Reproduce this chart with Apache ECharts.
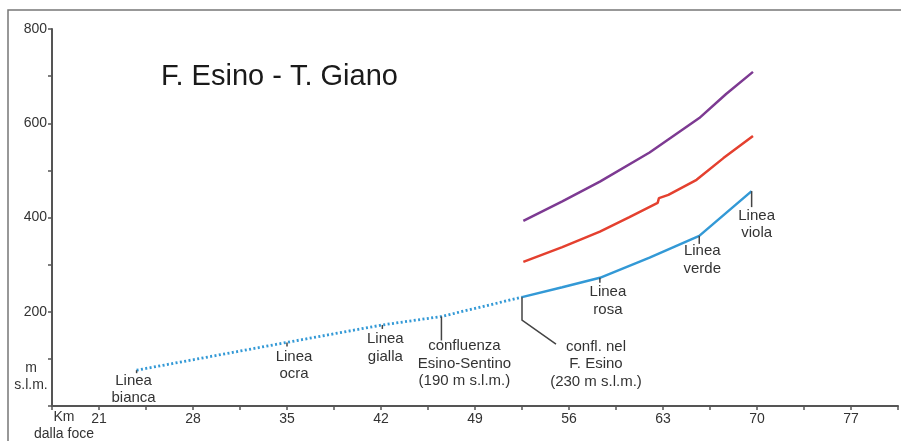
<!DOCTYPE html>
<html>
<head>
<meta charset="utf-8">
<script src="https://cdn.jsdelivr.net/npm/echarts@6/dist/echarts.min.js"></script>
<style>
html,body{margin:0;padding:0;background:#fff;}
#chart{width:901px;height:441px;}
</style>
</head>
<body>
<div id="chart"></div>
<script>
// ---- data ----
const chartTitle = 'F. Esino - T. Giano';
const xTickLabels = [21, 28, 35, 42, 49, 56, 63, 70, 77];
const yTickLabels = [200, 400, 600, 800];

// Linea blu tratteggiata (valle)
const blueDottedKm = [23.8, 35.0, 42.1, 46.5, 52.5];
const blueDottedM  = [76, 135, 172, 190, 231];
// Linea blu continua
const blueKm = [52.5, 55.5, 58.3, 62.0, 65.7, 69.6];
const blueM  = [231, 252, 272, 315, 361, 456];
// Linea rossa
const redKm = [52.6, 55.5, 58.3, 60.5, 62.6, 62.7, 63.4, 65.5, 67.5, 69.7];
const redM  = [306, 337, 370, 401, 431, 441, 448, 480, 526, 573];
// Linea viola
const purpleKm = [52.6, 55.5, 58.3, 62.0, 65.7, 67.7, 69.7];
const purpleM  = [393, 434, 476, 538, 611, 662, 709];

// annotations: anchor km, anchor elevation, text
const annKm   = [23.8, 35.0, 42.1, 46.5, 52.5, 58.3, 65.7, 69.6];
const annM    = [76, 135, 172, 190, 231, 272, 361, 456];
const annText = [
  'Linea\nbianca',
  'Linea\nocra',
  'Linea\ngialla',
  'confluenza\nEsino-Sentino\n(190 m s.l.m.)',
  'confl. nel\nF. Esino\n(230 m s.l.m.)',
  'Linea\nrosa',
  'Linea\nverde',
  'Linea\nviola'
];

// ---- layout of annotations (pixel offsets from anchor) ----
const annLayout = [
  {dx: -3, dy: 19, lead: [[0,0],[0,3]]},
  {dx: 7,  dy: 23, lead: [[0,0],[0,4]]},
  {dx: 3,  dy: 23, lead: [[0,0],[0,4]]},
  {dx: 23, dy: 47, lead: [[0,0],[0,24]]},
  {dx: 74, dy: 67, lead: [[0,0],[0,23],[34,47]]},
  {dx: 8,  dy: 23, lead: [[0,0],[0,5]]},
  {dx: 3,  dy: 24, lead: [[0,0],[0,8]]},
  {dx: 5,  dy: 33, lead: [[0,0],[0,16]]}
];

const zip = (a, b) => a.map((v, i) => [v, b[i]]);
const FONT = 'Liberation Sans';
const TXT = '#333';
const AXIS = '#555';

const chart = echarts.init(document.getElementById('chart'), null, {renderer: 'canvas'});

const option = {
  animation: false,
  backgroundColor: '#fff',
  grid: {left: 52, right: -2, top: 29, bottom: 35, containLabel: false},
  xAxis: {
    type: 'value', min: 17.5, max: 80.5, interval: 3.5,
    splitLine: {show: false},
    axisLine: {show: true, lineStyle: {color: AXIS, width: 2}},
    axisTick: {show: true, length: 4, lineStyle: {color: AXIS, width: 1.5}},
    axisLabel: {
      color: TXT, fontSize: 14, fontFamily: FONT, margin: 6,
      formatter: v => xTickLabels.some(t => Math.abs(t - v) < 1e-6) ? String(Math.round(v)) : ''
    }
  },
  yAxis: {
    type: 'value', min: 0, max: 800, interval: 100,
    splitLine: {show: false},
    axisLine: {show: true, lineStyle: {color: AXIS, width: 2}},
    axisTick: {show: true, length: 4, lineStyle: {color: AXIS, width: 1.5}},
    axisLabel: {
      color: TXT, fontSize: 14, fontFamily: FONT, margin: 5,
      formatter: v => yTickLabels.includes(v) ? String(v) : ''
    }
  },
  graphic: [
    {type: 'rect', shape: {x: 8, y: 10, width: 900, height: 440}, style: {fill: 'none', stroke: '#777', lineWidth: 1.5}, silent: true},
    {type: 'text', x: 161, y: 77, style: {text: chartTitle, fontSize: 29, fontFamily: FONT, fill: '#1a1a1a', verticalAlign: 'middle'}},
    {type: 'text', x: 64, y: 417, style: {text: 'Km', fontSize: 14, fontFamily: FONT, fill: TXT, align: 'center', verticalAlign: 'middle'}},
    {type: 'text', x: 64, y: 434, style: {text: 'dalla foce', fontSize: 14, fontFamily: FONT, fill: TXT, align: 'center', verticalAlign: 'middle'}},
    {type: 'text', x: 31, y: 368, style: {text: 'm', fontSize: 14, fontFamily: FONT, fill: TXT, align: 'center', verticalAlign: 'middle'}},
    {type: 'text', x: 31, y: 385, style: {text: 's.l.m.', fontSize: 14, fontFamily: FONT, fill: TXT, align: 'center', verticalAlign: 'middle'}}
  ],
  series: [
    {
      type: 'line', data: zip(blueDottedKm, blueDottedM), showSymbol: false, smooth: false,
      lineStyle: {color: '#3399d6', width: 2.8, type: [2, 2.4]}, z: 3
    },
    {
      type: 'line', data: zip(blueKm, blueM), showSymbol: false,
      lineStyle: {color: '#3399d6', width: 2.5}, z: 3
    },
    {
      type: 'line', data: zip(redKm, redM), showSymbol: false,
      lineStyle: {color: '#e4402f', width: 2.5}, z: 3
    },
    {
      type: 'line', data: zip(purpleKm, purpleM), showSymbol: false,
      lineStyle: {color: '#7d3a92', width: 2.5}, z: 3
    },
    {
      type: 'custom', z: 4,
      data: annKm.map((k, i) => [k, annM[i], i]),
      renderItem: function (params, api) {
        const i = api.value(2);
        const p = api.coord([api.value(0), api.value(1)]);
        const L = annLayout[i];
        const pts = L.lead.map(q => [p[0] + q[0], p[1] + q[1]]);
        return {
          type: 'group',
          children: [
            {type: 'polyline', shape: {points: pts}, style: {stroke: '#444', lineWidth: 1.5, fill: null}},
            {type: 'text', style: {
              text: annText[i], x: p[0] + L.dx, y: p[1] + L.dy,
              align: 'center', verticalAlign: 'middle',
              fontSize: 15, lineHeight: 17.5, fontFamily: FONT, fill: TXT
            }}
          ]
        };
      }
    }
  ]
};
chart.setOption(option);
</script>
</body>
</html>
